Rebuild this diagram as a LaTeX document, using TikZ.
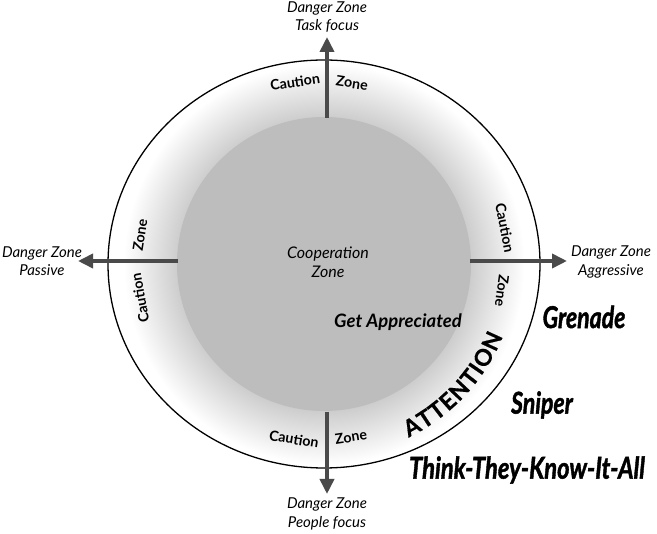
\documentclass[tikz,border=0pt]{standalone}
\usepackage{fontspec}
\setmainfont{Lato}
\newfontfamily\heavyfont{Lato}[BoldItalicFeatures={FakeBold=1.6},BoldFeatures={FakeBold=0.6}]
\usetikzlibrary{arrows.meta,decorations.text}
\definecolor{innergray}{HTML}{BDBDBD}
\definecolor{ringgray}{HTML}{CDCDCD}
\definecolor{arrowgray}{HTML}{4A4A4A}
\pgfdeclareradialshading{ringshade}{\pgfpoint{0bp}{0bp}}{color(0bp)=(ringgray); color(17bp)=(ringgray); color(23.2bp)=(white); color(50bp)=(white)}
\begin{document}
\begin{tikzpicture}[x=1pt,y=-1pt,
  danger/.style={align=center,font=\fontsize{15}{18.5}\selectfont\itshape,inner sep=0pt},
  caution/.style={font=\fontsize{14.2}{16}\selectfont\bfseries,inner sep=0pt},
  bigname/.style={font=\heavyfont\fontsize{30}{32}\selectfont\bfseries\itshape,xscale=0.77,inner sep=0pt},
  axisarrow/.style={draw=arrowgray,line width=3.6pt,-{Triangle[length=15pt,width=14pt]}}]
\useasboundingbox (0,0) rectangle (657,534);
\coordinate (c) at (324,264);
% ring with gradient
\begin{scope}
  \clip (c) ellipse [x radius=216, y radius=204];
  \shade[shading=ringshade] (c) circle [radius=216];
\end{scope}
\fill[innergray] (c) circle [radius=147];
\draw[line width=1.3pt] (c) ellipse [x radius=216, y radius=204];
% arrows
\coordinate (tS) at (327,118); \coordinate (tE) at (327,37);
\coordinate (lS) at (178,261); \coordinate (lE) at (78,261);
\coordinate (rS) at (470,261); \coordinate (rE) at (567,261);
\coordinate (bS) at (327,412); \coordinate (bE) at (327,494);
\draw[axisarrow] (tS) -- (tE);
\draw[axisarrow] (lS) -- (lE);
\draw[axisarrow] (rS) -- (rE);
\draw[axisarrow] (bS) -- (bE);
% danger zones
\node[danger] (dt) at (327,17) {Danger Zone\\Task focus};
\node[danger] (dl) at (42,261) {Danger Zone\\Passive};
\node[danger] (dr) at (611,262) {Danger Zone\\Aggressive};
\node[danger] (db) at (327,514) {Danger Zone\\People focus};
% caution labels
\node[caution,rotate=8.4] (ct1) at (295,82) {Caution};
\node[caution,rotate=-8.8] (ct2) at (352,83) {Zone};
\node[caution,rotate=81] (cl2) at (140,235) {Zone};
\node[caution,rotate=100] (cl1) at (140,298) {Caution};
\node[caution,rotate=-79] (cr1) at (505,228) {Caution};
\node[caution,rotate=-98] (cr2) at (502,291) {Zone};
\node[caution,rotate=-9.4] (cb1) at (294,439) {Caution};
\node[caution,rotate=8.5] (cb2) at (351,437) {Zone};
% inner texts
\node[danger,font=\fontsize{16}{19}\selectfont\itshape] (coop) at (328,262) {Cooperation\\Zone};
\node[font=\fontsize{18.5}{20}\selectfont\bfseries\itshape,inner sep=0pt] (ga) at (398,322) {Get Appreciated};
% ATTENTION along arc
\path[decorate,decoration={text along path,text align=fit to path,
  text={|\heavyfont\fontsize{23}{23}\selectfont\bfseries|ATTENTION}}]
  (324+193*cos 64, 264+193*sin 64) arc [start angle=64, end angle=22, radius=193];
% names
\node[bigname] (gr) at (584,317) {Grenade};
\node[bigname] (sn) at (542,405) {Sniper};
\node[bigname,xscale=1.03] (tk) at (527,470) {Think-They-Know-It-All};
\end{tikzpicture}
\end{document}
